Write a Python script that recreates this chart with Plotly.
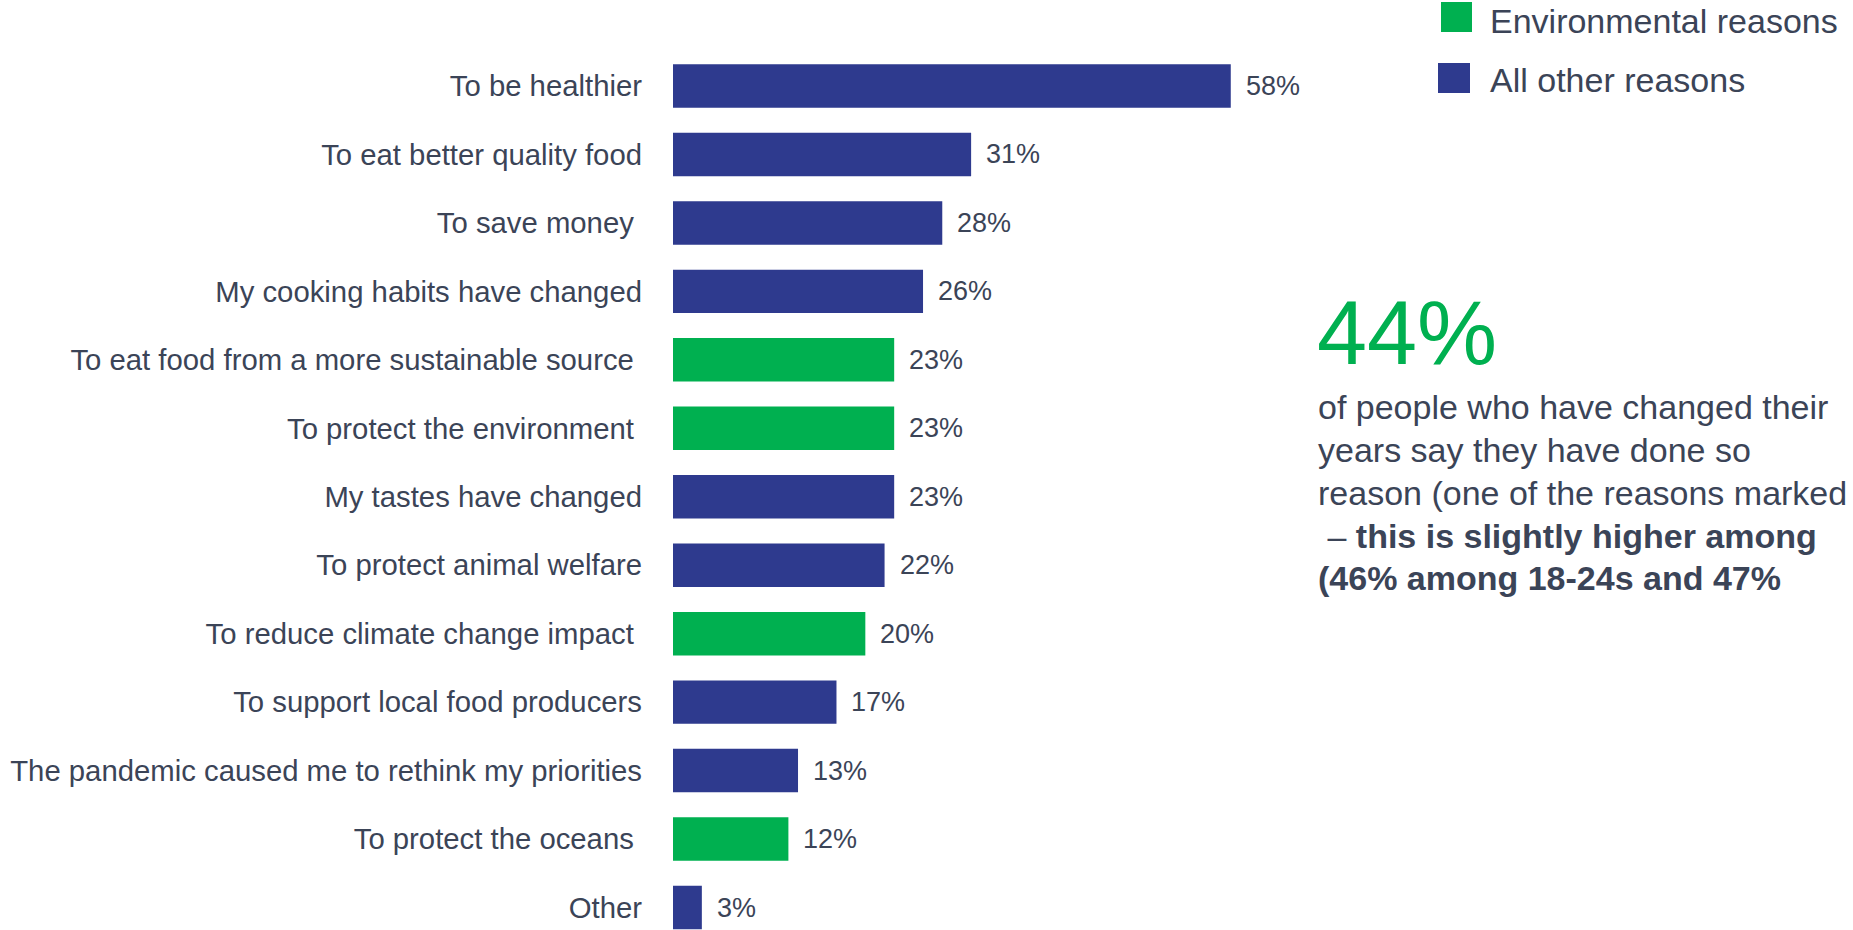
import plotly.graph_objects as go

# Reasons for changing diet, share of respondents (%)
categories = [
    "To be healthier",
    "To eat better quality food",
    "To save money\u00a0",
    "My cooking habits have changed",
    "To eat food from a more sustainable source\u00a0",
    "To protect the environment\u00a0",
    "My tastes have changed",
    "To protect animal welfare",
    "To reduce climate change impact\u00a0",
    "To support local food producers",
    "The pandemic caused me to rethink my priorities",
    "To protect the oceans\u00a0",
    "Other",
]
values = [58, 31, 28, 26, 23, 23, 23, 22, 20, 17, 13, 12, 3]
environmental = [False, False, False, False, True, True, False, False, True, False, False, True, False]

legend_labels = ["Environmental reasons", "All other reasons"]
headline = "44%"
body_lines = [
    "of people who have changed their",
    "years say they have done so",
    "reason (one of the reasons marked",
    "\u00a0– <b>this is slightly higher among</b>",
    "<b>(46% among 18-24s and 47%</b>",
]

GREEN = "#00B050"
BLUE = "#2E3A8E"
TEXT = "#3B4457"
FONT = "Arial, Liberation Sans, sans-serif"

W, H = 1853, 930
PLOT_L, PLOT_W = 673, 577


def px_x(x):
    return (x - PLOT_L) / PLOT_W


def px_y(y):
    return 1 - y / H


env_cats = [c for c, e in zip(categories, environmental) if e]
env_vals = [v for v, e in zip(values, environmental) if e]
oth_cats = [c for c, e in zip(categories, environmental) if not e]
oth_vals = [v for v, e in zip(values, environmental) if not e]

fig = go.Figure()
fig.add_trace(go.Bar(y=env_cats, x=env_vals, orientation="h", name=legend_labels[0],
                     marker=dict(color=GREEN, line=dict(width=0)), showlegend=False))
fig.add_trace(go.Bar(y=oth_cats, x=oth_vals, orientation="h", name=legend_labels[1],
                     marker=dict(color=BLUE, line=dict(width=0)), showlegend=False))

# value labels to the right of each bar
for c, v in zip(categories, values):
    fig.add_annotation(x=v, y=c, xref="x", yref="y", text=f"{v}%", showarrow=False,
                       xanchor="left", yanchor="middle", xshift=13,
                       font=dict(family=FONT, size=27, color=TEXT))

# legend drawn as squares with labels
fig.add_shape(type="rect", xref="paper", yref="paper",
              x0=px_x(1441), x1=px_x(1472), y0=px_y(32), y1=px_y(2),
              fillcolor=GREEN, line=dict(width=0))
fig.add_annotation(xref="paper", yref="paper", x=px_x(1488), y=px_y(0),
                   text=legend_labels[0], showarrow=False, xanchor="left", yanchor="top",
                   font=dict(family=FONT, size=34, color=TEXT))
fig.add_shape(type="rect", xref="paper", yref="paper",
              x0=px_x(1438), x1=px_x(1470), y0=px_y(93), y1=px_y(63),
              fillcolor=BLUE, line=dict(width=0))
fig.add_annotation(xref="paper", yref="paper", x=px_x(1488), y=px_y(80),
                   text=legend_labels[1], showarrow=False, xanchor="left", yanchor="middle",
                   font=dict(family=FONT, size=34, color=TEXT))

# headline figure and commentary
fig.add_annotation(xref="paper", yref="paper", x=px_x(1315), y=px_y(333),
                   text=headline, showarrow=False, xanchor="left", yanchor="middle",
                   font=dict(family=FONT, size=90, color=GREEN))
for i, line in enumerate(body_lines):
    fig.add_annotation(xref="paper", yref="paper", x=px_x(1316), y=px_y(407 + i * 42.85),
                       text=line, showarrow=False, xanchor="left", yanchor="middle",
                       font=dict(family=FONT, size=34, color=TEXT))

fig.update_layout(
    width=W, height=H,
    margin=dict(l=PLOT_L, r=W - PLOT_L - PLOT_W, t=0, b=0),
    paper_bgcolor="white", plot_bgcolor="white",
    barmode="overlay", bargap=0.365,
    xaxis=dict(range=[0, 60], visible=False, fixedrange=True),
    yaxis=dict(categoryorder="array", categoryarray=categories,
               range=[12 + (H - 907.5) / 68.46, -86 / 68.46],
               showgrid=False, showline=False, zeroline=False, ticks="",
               ticklabelstandoff=30, fixedrange=True,
               tickfont=dict(family=FONT, size=29.3, color=TEXT)),
)

fig.write_html("out.html", post_script="document.body.style.margin='0';")
